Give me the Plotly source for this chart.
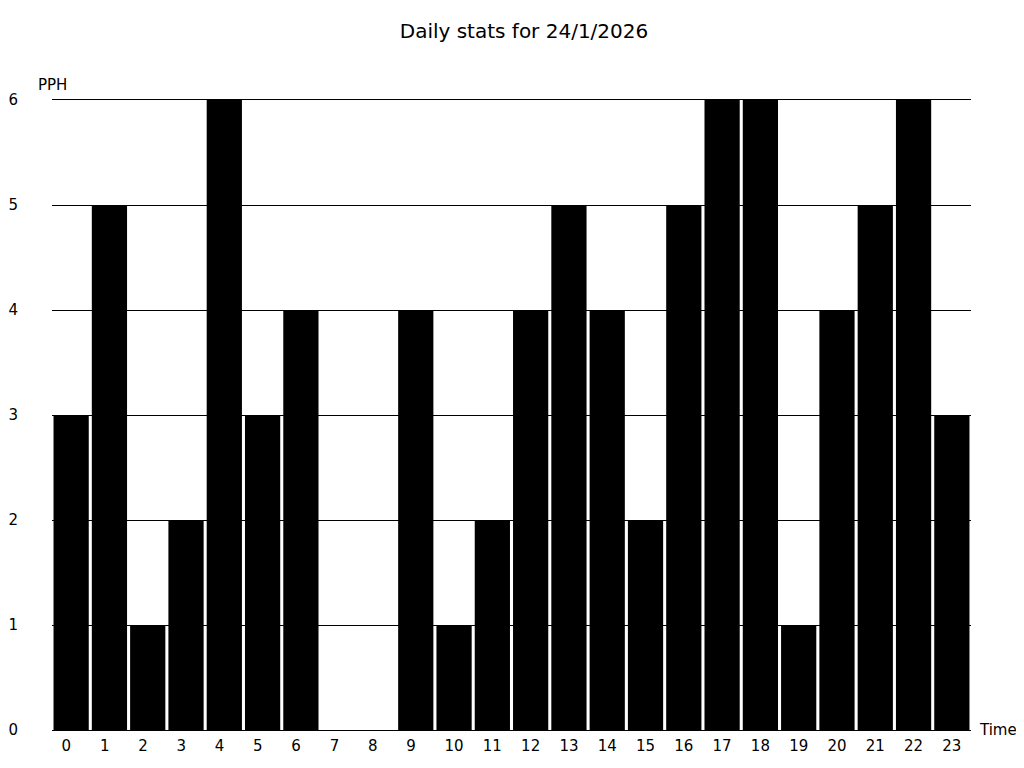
import plotly.graph_objects as go

hours = [str(h) for h in range(24)]
pph = [3, 5, 1, 2, 6, 3, 4, 0, 0, 4, 1, 2, 4, 5, 4, 2, 5, 6, 6, 1, 4, 5, 6, 3]
# tick labels as drawn: single-digit hours sit slightly left of bar centre
tick_labels = [h + "\u2007" if len(h) == 1 else h for h in hours]
title_text = "Daily stats for 24/1/2026"
y_label = "PPH"
x_label = "Time"

font = "DejaVu Sans"
W, H = 1008, 752

fig = go.Figure(go.Bar(x=hours, y=pph, marker=dict(color="black", line=dict(width=0))))

fig.update_layout(
    width=W, height=H,
    margin=dict(l=44, r=45, t=92, b=30, autoexpand=False),
    paper_bgcolor="white", plot_bgcolor="white",
    bargap=0.08,
    showlegend=False,
    font=dict(family=font, size=15, color="black"),
    title=dict(text=title_text, x=516 / W, xanchor="center", y=1 - 23 / H, yanchor="middle",
               font=dict(family=font, size=20, color="black")),
)
fig.update_xaxes(type="category", tickmode="array", tickvals=hours, ticktext=tick_labels,
                 showgrid=False, showline=True, mirror=True,
                 linecolor="black", linewidth=1, zeroline=False, automargin=False,
                 ticks="", tickfont=dict(size=15), ticklabelstandoff=2)
fig.update_yaxes(range=[0, 6], dtick=1, showgrid=True, gridcolor="black", gridwidth=1,
                 zeroline=True, zerolinecolor="black", zerolinewidth=1, showline=False,
                 automargin=False, ticks="", tickfont=dict(size=15), ticklabelstandoff=33)

fig.add_annotation(text=y_label, xref="paper", yref="paper", x=0.0, y=1.0, yshift=15,
                   xanchor="center", yanchor="middle", showarrow=False,
                   font=dict(family=font, size=15, color="black"))
fig.add_annotation(text=x_label, xref="paper", yref="paper", x=1.0, y=0.0, xshift=6,
                   xanchor="left", yanchor="middle", showarrow=False,
                   font=dict(family=font, size=15, color="black"))

fig.write_html("out.html")
